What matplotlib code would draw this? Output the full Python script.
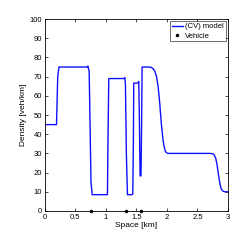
import matplotlib
matplotlib.use("Agg")
import matplotlib.pyplot as plt

plt.rcParams['font.family'] = ['Liberation Sans', 'DejaVu Sans']

# CV model density profile [veh/km] vs space [km]
space_km = [0.0, 0.19, 0.20, 0.21, 0.23, 0.30, 0.69, 0.705, 0.715, 0.725, 0.74, 0.755, 0.775,
            1.025, 1.035, 1.047, 1.298, 1.31, 1.32, 1.335, 1.353, 1.43, 1.44, 1.45, 1.456,
            1.50, 1.527, 1.538, 1.548, 1.56, 1.575, 1.585, 1.593, 1.62, 1.70, 1.745, 1.77,
            1.80, 1.83, 1.855, 1.88, 1.91, 1.936, 1.955, 1.975, 2.0, 2.02, 2.10, 2.70,
            2.755, 2.78, 2.80, 2.82, 2.836, 2.855, 2.87, 2.89, 2.92, 2.95, 3.0]
density = [45, 45, 58, 70, 75, 75, 75, 75.5, 74, 73, 45, 15, 8.5,
           8.5, 40, 69, 69, 69.5, 66, 30, 8.5, 8.5, 9, 35, 66.6,
           66.6, 66.8, 67.5, 50, 18.3, 18.3, 45, 75, 75, 75, 74.8, 74.2,
           73, 70, 65, 57, 45, 37, 33.5, 31, 30.2, 30, 30, 30,
           29.8, 29, 27.5, 24.5, 21, 17, 14, 11.5, 10.3, 10, 10]

# vehicle positions [km]
vehicle_x = [0.75, 1.33, 1.576]
vehicle_y = [0, 0, 0]

fig = plt.figure(figsize=(2.51, 2.41), dpi=100)
ax = fig.add_axes([0.179, 0.1245, 0.729, 0.7965])

ax.plot(space_km, density, color='#1010ff', linewidth=1.0, label='(CV) model')
ax.plot(vehicle_x, vehicle_y, 'k.', markersize=3, label='Vehicle', clip_on=False)

ax.set_xlim(0, 3)
ax.set_ylim(0, 100)
ax.set_xticks([0, 0.5, 1, 1.5, 2, 2.5, 3])
ax.set_xticklabels(['0', '0.5', '1', '1.5', '2', '2.5', '3'])
ax.set_yticks(range(0, 101, 10))
ax.tick_params(direction='in', top=True, right=True, labelsize=5.5, length=2, width=0.5, pad=2)
for s in ax.spines.values():
    s.set_linewidth(0.6)

ax.set_xlabel('Space [km]', fontsize=6, labelpad=1)
ax.set_ylabel('Density [veh/km]', fontsize=6, labelpad=2)

leg = ax.legend(loc='upper right', fontsize=5.5, frameon=True, fancybox=False,
                borderpad=0.2, handlelength=1.5, handletextpad=0.3, labelspacing=0.3,
                borderaxespad=0.3)
leg.get_frame().set_edgecolor('black')
leg.get_frame().set_linewidth(0.5)

fig.savefig('out.png', dpi=100)
